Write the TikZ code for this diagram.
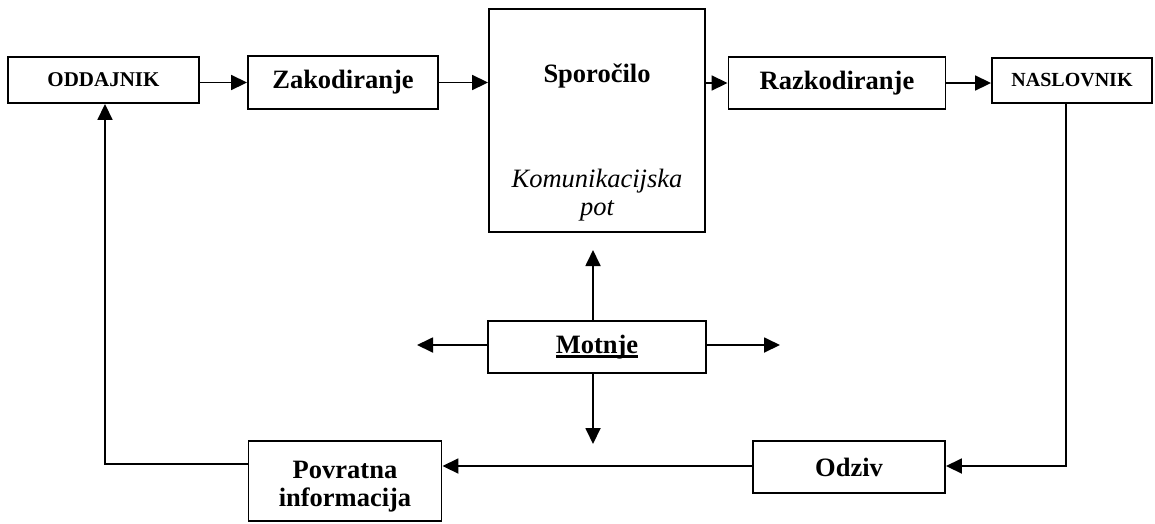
\documentclass[tikz,border=0pt]{standalone}
\usepackage{fontspec}
\setmainfont{Liberation Serif}
\usetikzlibrary{arrows.meta}
\newcommand{\thickul}[1]{\setbox0\hbox{#1}\rlap{\rule[-4.5pt]{\wd0}{2.6pt}}\box0}
\tikzset{
  box/.style={draw, line width=1.9pt, inner sep=0pt, align=center},
  conn/.style={line width=1.8pt},
  arr/.style={conn, -{Triangle[length=16pt,width=15pt]}},
  big/.style={font=\fontsize{26.5}{27}\selectfont\bfseries},
}
\begin{document}
\begin{tikzpicture}[x=1pt,y=-1pt]
\useasboundingbox (0,0) rectangle (1155,523);
% boxes
\node[box, minimum width=191pt, minimum height=46pt, font=\fontsize{21}{24}\selectfont\bfseries] (odd) at (103.5,80) {ODDAJNIK};
\node[box, big, minimum width=190pt, minimum height=53pt] (zak) at (343,82.5) {Zakodiranje};
\node[box, minimum width=216pt, minimum height=223pt] (spor) at (597,120.5) {};
\node[big, anchor=base] (sportxt) at (597,82) {Sporočilo};
\node[font=\fontsize{26.5}{27}\selectfont\itshape, anchor=base] (kom) at (597,187) {Komunikacijska};
\node[font=\fontsize{26.5}{27}\selectfont\itshape, anchor=base] (pot) at (597,215) {pot};
\node[box, big, minimum width=217pt, minimum height=52pt] (raz) at (837,83) {Razkodiranje};
\node[box, minimum width=160pt, minimum height=45pt, font=\fontsize{20}{24}\selectfont\bfseries] (nas) at (1072,80.5) {NASLOVNIK};
\node[box, big, minimum width=218pt, minimum height=52pt] (mot) at (597,347) {\thickul{Motnje}};
\node[box, big, minimum width=192pt, minimum height=52pt] (odz) at (849,467) {Odziv};
\node[box, minimum width=193pt, minimum height=80pt] (pov) at (345,481) {};
\node[big, anchor=base] (pov1) at (345,478) {Povratna};
\node[big, anchor=base] (pov2) at (345,506) {informacija};
% coordinates
\coordinate (mu) at (593,250);
\coordinate (ml) at (417,345);
\coordinate (mr) at (780,345);
\coordinate (md) at (593,444);
\coordinate (c1) at (1066,466);
\coordinate (c2) at (105,464);
% connectors
\draw[arr] (odd.east |- zak.west) -- (zak.west);
\draw[arr] (zak.east) -- (zak.east -| spor.west);
\draw[arr] (raz.west -| spor.east) -- (raz.west);
\draw[arr] (raz.east) -- (raz.east -| nas.west);
\draw[arr] (c1 |- nas.south) -- (c1) -- (c1 -| odz.east);
\draw[arr] (c1 -| odz.west) -- (c1 -| pov.east);
\draw[arr] (c2 -| pov.west) -- (c2) -- (c2 |- odd.south);
\draw[arr] (mot.north -| mu) -- (mu);
\draw[arr] (mot.west |- ml) -- (ml);
\draw[arr] (mot.east |- mr) -- (mr);
\draw[arr] (mot.south -| md) -- (md);
\end{tikzpicture}
\end{document}
